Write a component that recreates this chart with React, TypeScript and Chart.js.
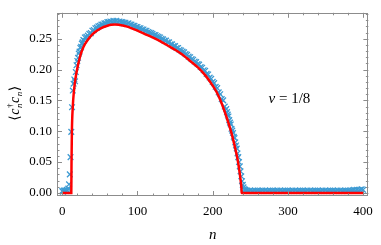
import React, { useEffect, useRef } from "react";
import { Chart, registerables } from "chart.js";

Chart.register(...registerables);

// Theory curve (red line)
const redN = [0, 12, 12.3, 12.8, 14, 15.5, 17.5, 20, 23, 26, 30, 35, 40, 45, 50, 55, 60, 65, 70, 75, 80, 85, 90, 95, 100, 110, 120, 130, 140, 150, 160, 170, 180, 190, 200, 205, 210, 215, 220, 225, 230, 233, 235, 237, 238.3, 238.5, 400];
const redV = [0, 0, 0.05, 0.1, 0.14, 0.165, 0.185, 0.202, 0.218, 0.23, 0.241, 0.25, 0.257, 0.262, 0.266, 0.269, 0.271, 0.2725, 0.273, 0.2728, 0.2715, 0.27, 0.268, 0.2655, 0.263, 0.2575, 0.252, 0.246, 0.239, 0.232, 0.224, 0.214, 0.204, 0.191, 0.174, 0.164, 0.151, 0.135, 0.117, 0.097, 0.072, 0.055, 0.04, 0.022, 0.006, 0, 0];

// Numerical data (blue crosses)
const blueLeftN = [0, 1, 2, 3, 4, 5, 6, 7, 8, 9, 10, 11, 12, 13, 14, 15, 16, 17, 18, 19, 20, 21, 22, 23, 24, 25, 26, 27, 28, 29, 30];
const blueLeftV = [0.003, 0.002, 0.004, 0.003, 0.004, 0.003, 0.005, 0.004, 0.007, 0.014, 0.03, 0.058, 0.099, 0.139, 0.166, 0.177, 0.184, 0.181, 0.196, 0.207, 0.214, 0.219, 0.226, 0.229, 0.235, 0.237, 0.242, 0.244, 0.248, 0.247, 0.252];
const blueMidN = [32, 34, 36, 38, 40, 42, 44, 46, 48, 50, 52, 54, 56, 58, 60, 62, 64, 66, 68, 70, 72, 74, 76, 78, 80, 82, 84, 86, 88, 90, 92, 94, 96, 98, 100, 102, 104, 106, 108, 110, 112, 114, 116, 118, 120, 122, 124, 126, 128, 130, 132, 134, 136, 138, 140, 142, 144, 146, 148, 150, 152, 154, 156, 158, 160, 162, 164, 166, 168, 170, 172, 174, 176, 178, 180, 182, 184, 186, 188, 190, 192, 194, 196, 198, 200, 202, 204, 206, 208, 210, 212, 214, 216, 218];
const blueMidV = [0.253, 0.255, 0.258, 0.259, 0.263, 0.264, 0.267, 0.268, 0.27, 0.271, 0.273, 0.273, 0.275, 0.275, 0.277, 0.277, 0.278, 0.277, 0.279, 0.278, 0.279, 0.277, 0.278, 0.277, 0.277, 0.276, 0.276, 0.274, 0.275, 0.273, 0.273, 0.271, 0.271, 0.269, 0.269, 0.267, 0.267, 0.265, 0.265, 0.263, 0.263, 0.261, 0.26, 0.259, 0.258, 0.256, 0.256, 0.254, 0.253, 0.252, 0.25, 0.249, 0.247, 0.247, 0.244, 0.244, 0.241, 0.241, 0.238, 0.238, 0.235, 0.235, 0.232, 0.231, 0.229, 0.228, 0.225, 0.224, 0.221, 0.22, 0.217, 0.216, 0.213, 0.212, 0.209, 0.208, 0.204, 0.203, 0.199, 0.198, 0.193, 0.192, 0.187, 0.185, 0.18, 0.178, 0.172, 0.17, 0.163, 0.16, 0.152, 0.15, 0.14, 0.136];
const blueEdgeN = [219, 220, 221, 222, 223, 224, 225, 226, 227, 228, 229, 230, 231, 232, 233, 234, 235, 236, 237, 238, 239, 240, 241, 242, 243, 244];
const blueEdgeV = [0.131, 0.127, 0.124, 0.118, 0.114, 0.111, 0.104, 0.101, 0.097, 0.091, 0.089, 0.082, 0.077, 0.072, 0.064, 0.058, 0.05, 0.043, 0.035, 0.027, 0.019, 0.013, 0.009, 0.006, 0.005, 0.004];
const blueTailN = [246, 248, 250, 252, 254, 256, 258, 260, 262, 264, 266, 268, 270, 272, 274, 276, 278, 280, 282, 284, 286, 288, 290, 292, 294, 296, 298, 300, 302, 304, 306, 308, 310, 312, 314, 316, 318, 320, 322, 324, 326, 328, 330, 332, 334, 336, 338, 340, 342, 344, 346, 348, 350, 352, 354, 356, 358, 360, 362, 364, 366, 368, 370, 372, 374, 376, 378, 380, 382, 384, 386, 388, 390, 392, 394, 396, 398, 400];
const blueTailV = [0.004, 0.003, 0.004, 0.003, 0.003, 0.004, 0.003, 0.004, 0.003, 0.003, 0.004, 0.003, 0.004, 0.003, 0.003, 0.004, 0.003, 0.004, 0.003, 0.003, 0.004, 0.003, 0.004, 0.003, 0.003, 0.004, 0.003, 0.004, 0.003, 0.003, 0.004, 0.003, 0.004, 0.003, 0.003, 0.004, 0.003, 0.004, 0.003, 0.003, 0.004, 0.003, 0.004, 0.003, 0.003, 0.004, 0.003, 0.004, 0.003, 0.003, 0.004, 0.003, 0.004, 0.003, 0.003, 0.004, 0.003, 0.004, 0.003, 0.003, 0.004, 0.003, 0.004, 0.003, 0.003, 0.004, 0.003, 0.004, 0.003, 0.004, 0.004, 0.005, 0.004, 0.005, 0.004, 0.005, 0.006, 0.005];

const xMajor = [0, 100, 200, 300, 400];
const yMajor = [0, 0.05, 0.1, 0.15, 0.2, 0.25];

const SERIF = "'Liberation Serif', 'DejaVu Serif', serif";

function zip(ns: number[], vs: number[]) {
  return ns.map((n, i) => ({ x: n, y: vs[i] }));
}

const framePlugin = {
  id: "frameTicks",
  afterDraw(chart: any) {
    const { ctx, chartArea: a, scales } = chart;
    const xs = scales.x;
    const ys = scales.y;
    ctx.save();
    ctx.strokeStyle = "#8c8c8c";
    ctx.lineWidth = 1;
    ctx.strokeRect(Math.round(a.left) + 0.5, Math.round(a.top) + 0.5, Math.round(a.right - a.left) - 1, Math.round(a.bottom - a.top) - 1);
    ctx.beginPath();
    for (let v = 0; v <= 400; v += 20) {
      const px = Math.round(xs.getPixelForValue(v)) + 0.5;
      const len = v % 100 === 0 ? 5 : 2.5;
      ctx.moveTo(px, a.bottom);
      ctx.lineTo(px, a.bottom - len);
      ctx.moveTo(px, a.top);
      ctx.lineTo(px, a.top + len);
    }
    for (let k = 0; k <= 29; k++) {
      const v = k / 100;
      const py = Math.round(ys.getPixelForValue(v)) + 0.5;
      const len = k % 5 === 0 ? 5 : 2.5;
      ctx.moveTo(a.left, py);
      ctx.lineTo(a.left + len, py);
      ctx.moveTo(a.right, py);
      ctx.lineTo(a.right - len, py);
    }
    ctx.stroke();

    ctx.fillStyle = "#000";
    ctx.textBaseline = "alphabetic";
    ctx.font = `italic 15px ${SERIF}`;
    ctx.textAlign = "center";
    ctx.fillText("n", (a.left + a.right) / 2, 239);

    // y title: <c†_n c_n>
    ctx.save();
    ctx.translate(19, 103);
    ctx.rotate(-Math.PI / 2);
    const big = `14px ${SERIF}`;
    const bigI = `italic 14px ${SERIF}`;
    const small = `9px ${SERIF}`;
    const smallI = `italic 9px ${SERIF}`;
    ctx.textAlign = "left";
    const parts: { t: string; f: string; dy: number; stackWith?: { t: string; f: string; dy: number } }[] = [
      { t: "\u27E8", f: big, dy: 0 },
      { t: "c", f: bigI, dy: 0 },
      { t: "\u2020", f: small, dy: -6, stackWith: { t: "n", f: smallI, dy: 3 } },
      { t: "c", f: bigI, dy: 0 },
      { t: "n", f: smallI, dy: 3 },
      { t: "\u27E9", f: big, dy: 0 },
    ];
    const widths = parts.map((p) => {
      ctx.font = p.f;
      let w = ctx.measureText(p.t).width;
      if (p.stackWith) {
        ctx.font = p.stackWith.f;
        w = Math.max(w, ctx.measureText(p.stackWith.t).width);
      }
      return w + 0.5;
    });
    const total = widths.reduce((s, w) => s + w, 0);
    let cx = -total / 2;
    parts.forEach((p, i) => {
      ctx.font = p.f;
      ctx.fillText(p.t, cx, p.dy);
      if (p.stackWith) {
        ctx.font = p.stackWith.f;
        ctx.fillText(p.stackWith.t, cx, p.stackWith.dy);
      }
      cx += widths[i];
    });
    ctx.restore();

    // annotation nu = 1/8
    const ax = xs.getPixelForValue(302);
    const ay = ys.getPixelForValue(0.1535) + 5;
    ctx.font = `italic 15px ${SERIF}`;
    const w1 = ctx.measureText("\u03BD").width;
    ctx.font = `15px ${SERIF}`;
    const w2 = ctx.measureText(" = 1/8").width;
    const sx = ax - (w1 + w2) / 2;
    ctx.textAlign = "left";
    ctx.font = `italic 15px ${SERIF}`;
    ctx.fillText("\u03BD", sx, ay);
    ctx.font = `15px ${SERIF}`;
    ctx.fillText(" = 1/8", sx + w1, ay);
    ctx.restore();
  },
};

export default function App() {
  const ref = useRef<HTMLCanvasElement | null>(null);
  useEffect(() => {
    if (!ref.current) return;
    const blue = [
      ...zip(blueLeftN, blueLeftV),
      ...zip(blueMidN, blueMidV),
      ...zip(blueEdgeN, blueEdgeV),
      ...zip(blueTailN, blueTailV),
    ];
    const chart = new Chart(ref.current, {
      type: "scatter",
      data: {
        datasets: [
          {
            label: "theory",
            data: zip(redN, redV),
            showLine: true,
            borderColor: "#ff0000",
            borderWidth: 2.5,
            pointRadius: 0,
            cubicInterpolationMode: "monotone",
            order: 0,
          } as any,
          {
            label: "data",
            data: blue,
            pointStyle: "crossRot",
            pointRadius: 4,
            borderColor: "rgb(62,155,211)",
            backgroundColor: "rgb(62,155,211)",
            pointBorderWidth: 1.3,
            showLine: false,
            order: 1,
          } as any,
        ],
      },
      options: {
        responsive: false,
        animation: false,
        events: [],
        layout: { padding: { top: 1, right: 8, left: 0, bottom: 0 } },
        plugins: { legend: { display: false }, tooltip: { enabled: false } },
        scales: {
          x: {
            type: "linear",
            min: -7,
            max: 407,
            grid: { display: false, drawTicks: false },
            border: { display: false },
            afterBuildTicks: (s: any) => {
              s.ticks = xMajor.map((v) => ({ value: v }));
            },
            afterFit: (s: any) => {
              s.height = 49;
            },
            ticks: {
              padding: 8,
              color: "#000",
              font: { family: SERIF, size: 13 },
              maxRotation: 0,
              callback: (v: any) => String(v),
            },
          },
          y: {
            type: "linear",
            min: -0.005,
            max: 0.292,
            grid: { display: false, drawTicks: false },
            border: { display: false },
            afterBuildTicks: (s: any) => {
              s.ticks = yMajor.map((v) => ({ value: v }));
            },
            afterFit: (s: any) => {
              s.width = 57;
            },
            ticks: {
              padding: 5,
              color: "#000",
              font: { family: SERIF, size: 13 },
              callback: (v: any) => Number(v).toFixed(2),
            },
          },
        },
      },
      plugins: [framePlugin],
    });
    return () => chart.destroy();
  }, []);
  return (
    <div style={{ position: "fixed", left: 0, top: 0, width: 381, height: 245, background: "#fff" }}>
      <canvas ref={ref} width={381} height={245} />
    </div>
  );
}
